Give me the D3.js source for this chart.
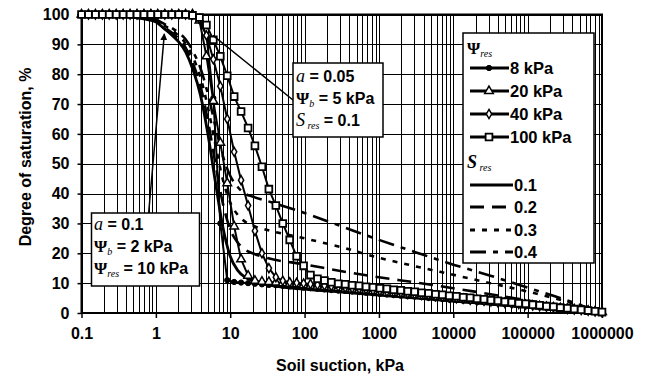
<!DOCTYPE html>
<html>
<head>
<meta charset="utf-8">
<style>
  body { margin: 0; background: #fff; }
  svg { display: block; font-family: "Liberation Sans", Arial, sans-serif; }
  .tick text { font-size: 16px; font-weight: bold; fill: #000; }
  .lbl { font-size: 16px; font-weight: bold; fill: #000; }
  .leg { font-size: 16.5px; }
  .serif { font-family: "Liberation Serif", "Times New Roman", serif; }
</style>
</head>
<body>
<svg id="chart" width="646" height="379"></svg>
<script src="https://cdnjs.cloudflare.com/ajax/libs/d3/7.8.5/d3.min.js"></script>
<script>
// suction values (kPa) of the marker curves
var suction = [0.1, 0.124, 0.154, 0.191, 0.236, 0.293, 0.363, 0.45, 0.558, 0.692, 0.858,
  1.06, 1.32, 1.64, 2.03, 2.51, 3.11, 3.86, 4.79, 5.93, 7.36, 9.12, 11.3, 14, 17.4, 21.5,
  26.7, 33.1, 41.1, 50.9, 63.1, 78.2, 97, 120, 149, 185, 229, 284, 352, 437, 541, 671, 832,
  1030, 1280, 1580, 1970, 2440, 3020, 3750, 4640, 5750, 7130, 8840, 11000, 13600, 16900,
  20900, 25900, 32100, 39800, 49400, 61200, 75900, 94000, 117000, 145000, 179000, 222000,
  275000, 342000, 423000, 525000, 651000, 807000, 1000000];

// degree of saturation (%) for psi_res = 8, 20, 40, 100 kPa
var psiRes8 = [100,100,100,100,100,100,100,100,100,100,100,100,100,100,100,100,100,
  98,93,72,30,11,
  10.4,10.2,10.0,9.8,9.6,9.4,9.3,9.1,8.9,8.7,8.5,8.3,8.1,7.9,7.7,7.5,7.4,7.2,7.0,6.8,6.6,6.4,
  6.2,6.0,5.8,5.6,5.5,5.3,5.1,4.9,4.7,4.5,4.3,4.1,3.9,3.7,3.6,3.4,3.2,3.0,2.8,2.6,2.4,2.2,2.0,
  1.8,1.7,1.5,1.3,1.1,0.9,0.7,0.5,0.3];
var psiRes20 = [100,100,100,100,100,100,100,100,100,100,100,100,100,100,100,100,100,
  98,86,71,57,43.5,29,18,12.5,10.8,10.5,10.4,
  10.2,10.0,9.8,9.6,9.3,9.1,8.9,8.7,8.5,8.3,8.1,7.9,7.7,7.5,7.3,7.0,6.8,6.6,6.4,6.2,6.0,5.8,
  5.6,5.4,5.2,4.9,4.7,4.5,4.3,4.1,3.9,3.7,3.5,3.3,3.1,2.8,2.6,2.4,2.2,2.0,1.8,1.6,1.4,1.2,1.0,
  0.7,0.5,0.3];
var psiRes40 = [100,100,100,100,100,100,100,100,100,100,100,100,100,100,100,100,100,
  98.5,93,85,76,65,54,44.5,36,27.5,20,15,12,10.8,10.3,10.1,
  9.9,9.7,9.4,9.2,9.0,8.8,8.5,8.3,8.1,7.9,7.6,7.4,7.2,7.0,6.8,6.5,6.3,6.1,5.9,5.6,5.4,5.2,5.0,
  4.8,4.5,4.3,4.1,3.9,3.6,3.4,3.2,3.0,2.8,2.5,2.3,2.1,1.9,1.6,1.4,1.2,1.0,0.8,0.5,0.3];
var psiRes100 = [100,100,100,100,100,100,100,100,100,100,100,100,100,100,100,100,
  99.7,99,96.5,91.5,86,79.5,72.5,67.5,62,56,49,41.5,36,30,24.5,19,15.8,12.7,11.5,10.9,10.3,9.8,
  9.6,9.3,9.1,8.8,8.6,8.3,8.1,7.8,7.6,7.3,7.1,6.8,6.6,6.3,6.1,5.8,5.6,5.3,5.1,4.8,4.6,4.3,4.1,
  3.8,3.6,3.3,3.1,2.8,2.6,2.3,2.1,1.8,1.6,1.3,1.1,0.8,0.6,0.3];

// suction values (kPa) of the S_res curves
var lineSuction = [0.1, 0.316, 0.5, 1, 1.26, 1.58, 2, 2.51, 3.16, 3.98, 5.01, 6.31, 7.94, 10,
  12.6, 15.8, 20, 31.6, 100, 316, 1000, 3160, 10000, 31600, 100000, 316000, 1000000];
var sRes01 = [100,99.6,99,97.5,95.5,93.5,91,87.5,81.5,73,60,44,29,19,14.3,12,10.9,9.5,8,7,6,5,4,3,2,1,0];
var sRes02 = [100,99.6,99.1,97.8,96,94.2,92,88.9,83.5,76,64.5,50.2,36.9,28,23.6,21.2,20,18.4,16.3,14,12,10.2,8.3,6.3,4.2,2.1,0];
var sRes03 = [100,99.7,99.2,98,96.5,95,93,90.3,85.6,79,68.9,56.5,44.8,37,32.9,30.6,29.3,27.8,25,22,18.5,15.6,12.8,10,7.2,4,0];
var sRes04 = [100,99.7,99.3,98.3,97,95.7,94,91.7,87.6,82,73.4,62.7,52.7,46,42.2,40,39,37.5,33.5,29,24.5,20.3,16.2,12.5,8.5,4.5,0];

var psiResLabels = ["8 kPa", "20 kPa", "40 kPa", "100 kPa"];
var sResLabels = ["0.1", "0.2", "0.3", "0.4"];
var xTicks = [0.1, 1, 10, 100, 1000, 10000, 100000, 1000000];
var xTickLabels = ["0.1", "1", "10", "100", "1000", "10000", "100000", "1000000"];
var yTicks = [0, 10, 20, 30, 40, 50, 60, 70, 80, 90, 100];

var svg = d3.select("#chart");
var plotL = 81.5, plotR = 602, plotT = 14.5, plotB = 313;

var x = d3.scaleLog().domain([0.1, 1e6]).range([plotL, plotR]);
var y = d3.scaleLinear().domain([0, 100]).range([plotB, plotT]);

// grid
var grid = svg.append("g").attr("stroke", "#000").attr("stroke-width", 1);
grid.selectAll("line.v")
  .data(x.ticks())
  .enter().append("line")
    .attr("x1", function(d) { return Math.round(x(d)) + 0.5; })
    .attr("x2", function(d) { return Math.round(x(d)) + 0.5; })
    .attr("y1", plotT).attr("y2", plotB);
grid.selectAll("line.h")
  .data(yTicks)
  .enter().append("line")
    .attr("x1", plotL).attr("x2", plotR)
    .attr("y1", function(d) { return Math.round(y(d)) + 0.5; })
    .attr("y2", function(d) { return Math.round(y(d)) + 0.5; });

// axes
var xAxis = d3.axisBottom(x).tickValues(xTicks).tickSize(5).tickPadding(10)
  .tickFormat(function(d, i) { return xTickLabels[i]; });
svg.append("g").attr("transform", "translate(0," + plotB + ")").call(xAxis)
  .call(function(g) { g.select(".domain").remove(); })
  .call(function(g) { g.selectAll(".tick line").attr("stroke", "#000").attr("stroke-width", 1.5); });

var yAxis = d3.axisLeft(y).tickValues(yTicks).tickSize(4).tickPadding(8);
svg.append("g").attr("transform", "translate(" + plotL + ",0)").call(yAxis)
  .call(function(g) { g.select(".domain").remove(); })
  .call(function(g) { g.selectAll(".tick line").attr("stroke", "#000").attr("stroke-width", 1.5); });

svg.append("rect")
  .attr("x", plotL).attr("y", plotT)
  .attr("width", plotR - plotL).attr("height", plotB - plotT)
  .attr("fill", "none").attr("stroke", "#000").attr("stroke-width", 2);

svg.append("text").attr("class", "lbl")
  .attr("x", 340).attr("y", 371).attr("text-anchor", "middle")
  .text("Soil suction, kPa");
svg.append("text").attr("class", "lbl")
  .attr("transform", "translate(31,157) rotate(-90)").attr("text-anchor", "middle")
  .text("Degree of saturation, %");

// S_res curves
var lineGen = d3.line()
  .x(function(d) { return x(d[0]); })
  .y(function(d) { return y(d[1]); })
  .curve(d3.curveMonotoneX);

var sResSeries = [
  { values: sRes01, dash: null, width: 2.8 },
  { values: sRes02, dash: "14,8", width: 2.6 },
  { values: sRes03, dash: "5,7", width: 2.6 },
  { values: sRes04, dash: "16,7,5,7", width: 2.6 }
];
sResSeries.forEach(function(s) {
  svg.append("path")
    .datum(lineSuction.map(function(p, i) { return [p, s.values[i]]; }))
    .attr("d", lineGen)
    .attr("fill", "none").attr("stroke", "#000")
    .attr("stroke-width", s.width)
    .attr("stroke-dasharray", s.dash);
});

// psi_res curves with markers
var circleSym = d3.symbol().type(d3.symbolCircle).size(22);
var triSym = d3.symbol().type(d3.symbolTriangle).size(32);
var diaSym = d3.symbol().type(d3.symbolDiamond).size(24);
var sqSym = d3.symbol().type(d3.symbolSquare).size(46);

var psiResSeries = [
  { values: psiRes8, sym: circleSym, fill: "#000", sw: 1 },
  { values: psiRes20, sym: triSym, fill: "#fff", sw: 1.5 },
  { values: psiRes40, sym: diaSym, fill: "#fff", sw: 1.5 },
  { values: psiRes100, sym: sqSym, fill: "#fff", sw: 1.8 }
];
var markLine = d3.line()
  .x(function(d) { return x(d[0]); })
  .y(function(d) { return y(d[1]); });

psiResSeries.forEach(function(s) {
  var pts = suction.map(function(p, i) { return [p, s.values[i]]; });
  svg.append("path").datum(pts).attr("d", markLine)
    .attr("fill", "none").attr("stroke", "#000").attr("stroke-width", 2);
  svg.append("g").selectAll("path")
    .data(pts)
    .enter().append("path")
      .attr("transform", function(d) { return "translate(" + x(d[0]) + "," + y(d[1]) + ")"; })
      .attr("d", s.sym)
      .attr("fill", s.fill).attr("stroke", "#000").attr("stroke-width", s.sw);
});

// annotations
var defs = svg.append("defs");
defs.append("marker").attr("id", "head")
  .attr("viewBox", "0 0 10 10").attr("refX", 9).attr("refY", 5)
  .attr("markerWidth", 7).attr("markerHeight", 9).attr("markerUnits", "userSpaceOnUse")
  .attr("orient", "auto")
  .append("path").attr("d", "M0,0L10,5L0,10Z").attr("fill", "#000");

svg.append("line")
  .attr("x1", x(0.8)).attr("y1", y(33.5))
  .attr("x2", x(1.3)).attr("y2", y(93.5))
  .attr("stroke", "#000").attr("stroke-width", 1.5)
  .attr("marker-end", "url(#head)");
svg.append("line")
  .attr("x1", x(5.85)).attr("y1", y(93))
  .attr("x2", 293).attr("y2", 100)
  .attr("stroke", "#000").attr("stroke-width", 1.5);

function richText(g, xPos, yPos, parts, cls) {
  var t = g.append("text").attr("x", xPos).attr("y", yPos).attr("class", "lbl " + (cls || ""));
  parts.forEach(function(p) {
    var ts = t.append("tspan").text(p.t);
    if (p.k === "it") ts.attr("class", "serif").style("font-style", "italic").style("font-weight", "normal").style("font-size", "18px");
    if (p.k === "itb") ts.attr("class", "serif").style("font-style", "italic").style("font-size", "18px");
    if (p.k === "psi") ts.attr("class", "serif").style("font-size", "17px");
    if (p.k === "sub") ts.attr("class", "serif").style("font-style", "italic").style("font-weight", "normal")
      .style("font-size", "10px").attr("dy", 3);
    if (p.k === "after") ts.attr("dy", -3);
  });
  return t;
}

var box1 = svg.append("g");
box1.append("rect").attr("x", 293).attr("y", 63).attr("width", 90).attr("height", 74)
  .attr("fill", "#fff").attr("stroke", "#000").attr("stroke-width", 1.5);
richText(box1, 296, 82, [{ t: "a", k: "it" }, { t: " = 0.05" }]);
richText(box1, 296, 104, [{ t: "Ψ", k: "psi" }, { t: "b", k: "sub" }, { t: " = 5 kPa", k: "after" }]);
richText(box1, 296, 126, [{ t: "S", k: "it" }, { t: " res", k: "sub" }, { t: " = 0.1", k: "after" }]);

var box2 = svg.append("g");
box2.append("rect").attr("x", 91.5).attr("y", 213).attr("width", 108).attr("height", 73)
  .attr("fill", "#fff").attr("stroke", "#000").attr("stroke-width", 1.5);
richText(box2, 94, 230, [{ t: "a", k: "it" }, { t: " = 0.1" }]);
richText(box2, 94, 252, [{ t: "Ψ", k: "psi" }, { t: "b", k: "sub" }, { t: " = 2 kPa", k: "after" }]);
richText(box2, 94, 274, [{ t: "Ψ", k: "psi" }, { t: "res", k: "sub" }, { t: " = 10 kPa", k: "after" }]);

// legend
var leg = svg.append("g");
leg.append("rect").attr("x", 463).attr("y", 33).attr("width", 131).attr("height", 230)
  .attr("fill", "#fff").attr("stroke", "#000").attr("stroke-width", 1.5);
richText(leg, 467, 54, [{ t: "Ψ", k: "psi" }, { t: "res", k: "sub" }]);
richText(leg, 467, 168, [{ t: "S", k: "itb" }, { t: " res", k: "sub" }]);

var psiRows = [68, 91, 114, 137];
psiResSeries.forEach(function(s, i) {
  var ry = psiRows[i];
  leg.append("line").attr("x1", 470).attr("x2", 509).attr("y1", ry).attr("y2", ry)
    .attr("stroke", "#000").attr("stroke-width", 2.8);
  leg.append("path").attr("transform", "translate(489," + ry + ")")
    .attr("d", s.sym).attr("fill", s.fill).attr("stroke", "#000").attr("stroke-width", s.sw);
  leg.append("text").attr("class", "lbl leg").attr("x", 510).attr("y", ry + 6).text(psiResLabels[i]);
});

var sRows = [185, 207, 230, 252];
sResSeries.forEach(function(s, i) {
  var ry = sRows[i];
  leg.append("line").attr("x1", 470).attr("x2", 513).attr("y1", ry).attr("y2", ry)
    .attr("stroke", "#000").attr("stroke-width", 3)
    .attr("stroke-dasharray", s.dash);
  leg.append("text").attr("class", "lbl leg").attr("x", 514).attr("y", ry + 6).text(sResLabels[i]);
});
</script>
</body>
</html>
